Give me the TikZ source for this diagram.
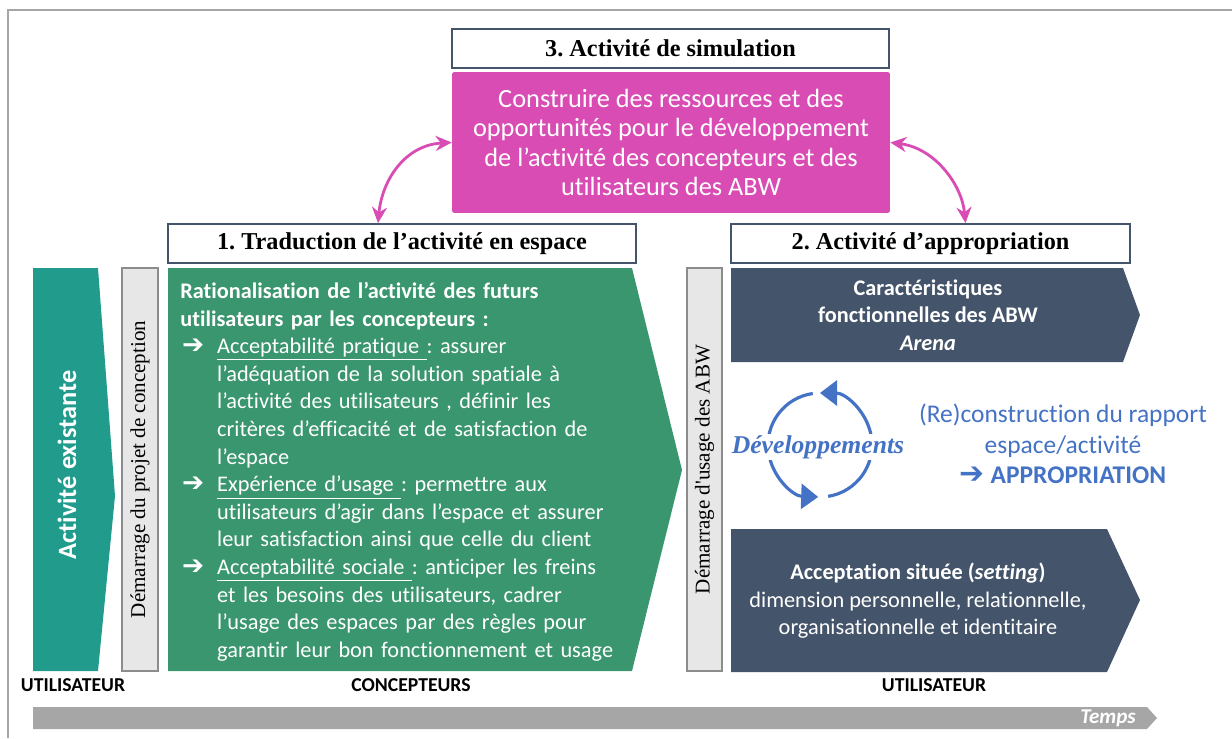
\documentclass[tikz,border=0pt]{standalone}
\usepackage{fontspec}
\setmainfont{Carlito}[Ligatures={TeX,NoCommon}]
\newfontfamily\titlefont{Liberation Serif}
\newfontfamily\symfont{DejaVu Sans}
\usepackage{tikz}
\usetikzlibrary{arrows.meta,positioning,calc}
\frenchspacing
\definecolor{slate}{RGB}{68,84,106}
\definecolor{tealx}{RGB}{32,155,140}
\definecolor{greenx}{RGB}{58,150,110}
\definecolor{magx}{RGB}{216,76,180}
\definecolor{bluex}{RGB}{68,114,196}
\definecolor{barx}{RGB}{231,231,231}
\tikzset{
  ttl/.style={draw=slate,line width=1pt,fill=white,inner sep=0pt,
              font=\titlefont\bfseries\fontsize{13.8}{15}\selectfont},
  bar/.style={draw=black!45,line width=1pt,fill=barx,rotate=90,inner sep=0pt,
              font=\titlefont\fontsize{12}{14}\selectfont},
  who/.style={font=\bfseries\fontsize{11.2}{13}\selectfont},
  marr/.style={{Stealth[length=3.2mm,width=3mm]}-{Stealth[length=3.2mm,width=3mm]},
               magx,line width=1.6pt},
  carr/.style={-{Triangle[length=3.4mm,width=5mm]},bluex,line width=1.8pt}
}
\newcommand{\fleche}{{\symfont ➔}}
\newcommand{\itm}[1]{\par\hangindent=21pt\hangafter=1\noindent
  \makebox[21pt][l]{\hspace{1pt}{\fontsize{15}{15}\selectfont\fleche}}#1}

\begin{document}
\begin{tikzpicture}[x=0.02cm,y=-0.02cm]
  \useasboundingbox (0,0) rectangle (1232,738);
  \draw[black!35,line width=1pt] (1232,10) -- (8,10) -- (8,738);

  % simulation
  \node[ttl,minimum width=8.74cm,minimum height=0.78cm] (t3) at (670.5,48.5) {3. Activité de simulation};
  \node[fill=magx,rounded corners=1pt,minimum width=8.76cm,minimum height=2.82cm,
        text=white,align=center,font=\fontsize{15}{16.8}\selectfont] (sim) at (671,142.5)
       {Construire des ressources et des\\opportunités pour le développement\\de l’activité des concepteurs et des\\utilisateurs des ABW};

  \node[ttl,minimum width=9.36cm,minimum height=0.78cm] (t1) at (402,243.5) {1. Traduction de l’activité en espace};
  \node[ttl,minimum width=7.98cm,minimum height=0.78cm] (t2) at (930.5,243.5) {2. Activité d’appropriation};

  \coordinate (e1) at ($(t1.north)+(-24,0)$);
  \coordinate (e2) at ($(t2.north)+(35,0)$);
  \draw[marr] (sim.west) .. controls (405,145) and (382,180) .. (e1);
  \draw[marr] (sim.east) .. controls (935,148) and (962,185) .. (e2);

  % activite existante
  \fill[tealx] (33,268) -- (98,268) -- (115,496) -- (98,671) -- (33,671) -- cycle;
  \node[rotate=90,text=white,font=\bfseries\fontsize{15}{18}\selectfont] (exist) at (67,465) {Activité existante};
  \node[bar,minimum width=8.06cm,minimum height=0.72cm] (dem1) at (140,469.5) {Démarrage du projet de conception};

  % traduction
  \fill[greenx] (168,268) -- (632,268) -- (682,470) -- (632,671) -- (168,671) -- cycle;
  \node[anchor=north west,inner sep=0pt,text=white,text width=9cm,
        font=\fontsize{12.7}{15.7}\selectfont] (trad) at (180,282) {\raggedright
    {\bfseries Rationalisation de l’activité des futurs\newline utilisateurs par les concepteurs :}
    \itm{\underline{Acceptabilité pratique\ }: assurer\newline l’adéquation de la solution spatiale à\newline
      l’activité des utilisateurs , définir les\newline critères d’efficacité et de satisfaction de\newline l’espace}
    \itm{\underline{Expérience d’usage\ }: permettre aux\newline utilisateurs d’agir dans l’espace et assurer\newline
      leur satisfaction ainsi que celle du client}
    \itm{\underline{Acceptabilité sociale\ }: anticiper les freins\newline et les besoins des utilisateurs, cadrer\newline
      l’usage des espaces par des règles pour\newline garantir leur bon fonctionnement et usage}\par};

  \node[bar,minimum width=8.06cm,minimum height=0.70cm] (dem2) at (704.5,469.5) {Démarrage d'usage des ABW};

  % appropriation
  \fill[slate] (731,268) -- (1123,268) -- (1140,315) -- (1123,362) -- (731,362) -- cycle;
  \node[text=white,align=center,font=\bfseries\fontsize{12.7}{15.6}\selectfont] (arena) at (928,315)
       {Caractéristiques\\fonctionnelles des ABW\\\textit{Arena}};
  \fill[slate] (731,529) -- (1107,529) -- (1140,600) -- (1107,672) -- (731,672) -- cycle;
  \node[text=white,align=center,font=\fontsize{12.7}{15.6}\selectfont] (setting) at (918,601)
       {\textbf{Acceptation située (\textit{setting})}\\dimension personnelle, relationnelle,\\organisationnelle et identitaire};

  % cycle
  \coordinate (cyc) at (820,445);
  \draw[carr] ($(cyc)+(81:52)$) arc[start angle=81,end angle=-90,radius=52];
  \draw[carr] ($(cyc)+(-98:52)$) arc[start angle=-98,end angle=-268,radius=52];
  \node[fill=white,inner sep=1pt,text=bluex,font=\titlefont\bfseries\itshape\fontsize{14.6}{16}\selectfont] (dev) at (818,447) {Développements};
  \node[text=bluex,align=center,font=\fontsize{14.5}{17.5}\selectfont] (reco) at (1063,444)
       {(Re)construction du rapport\\espace/activité\\{\fontsize{17}{17}\selectfont\fleche}\ \textbf{APPROPRIATION}};

  % acteurs
  \node[who] (u1) at (73,685) {UTILISATEUR};
  \node[who] (conc) at (411,685) {CONCEPTEURS};
  \node[who] (u2) at (934,685) {UTILISATEUR};

  % temps
  \fill[black!35] (33,707) -- (1147,707) -- (1157,718) -- (1147,729) -- (33,729) -- cycle;
  \node[text=white,font=\bfseries\itshape\fontsize{12}{14}\selectfont] (temps) at (1108,718) {Temps};
\end{tikzpicture}
\end{document}
